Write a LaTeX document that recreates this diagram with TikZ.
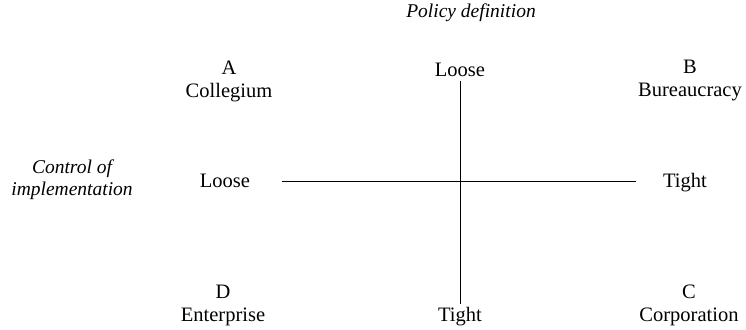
\documentclass[tikz,border=0pt]{standalone}
\usepackage{fontspec}
\setmainfont{Liberation Serif}
\usepackage{tikz}

\begin{document}
\begin{tikzpicture}[x=1pt, y=1pt, line width=0.9pt,
    every node/.style={font=\fontsize{20.5}{23}\selectfont, align=center},
    axislabel/.style={font=\fontsize{19.5}{22}\selectfont\itshape}]

\useasboundingbox (0,0) rectangle (746,329);

% Axis titles
\node[axislabel] (poldef) at (471,316) {Policy definition};
\node[axislabel] (ctrlimp) at (72,149) {Control of\\implementation};

% Ends of the axes
\node (polloose) at (460,259) {Loose};
\node (poltight) at (460,12) {Tight};
\node (ctrlloose) at (225,148) {Loose};
\node (ctrltight) at (685,146) {Tight};

% Axes
\draw (polloose.south) -- (polloose.south |- poltight.north);
\draw[shorten <=28pt, shorten >=23pt] (ctrlloose.east) -- (ctrltight.west |- ctrlloose.east);

% Quadrants
\node (colleg) at (229,248) {A\\Collegium};
\node (bureau) at (690,248) {B\\Bureaucracy};
\node (corpor) at (689,24) {C\\Corporation};
\node (enterp) at (223,24) {D\\Enterprise};

\end{tikzpicture}
\end{document}
